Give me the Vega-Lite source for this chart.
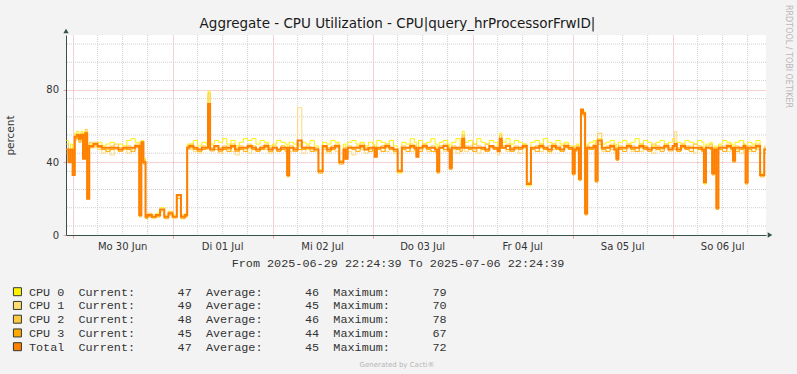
{
  "$schema": "https://vega.github.io/schema/vega-lite/v6.json",
  "background": "#F3F3F3",
  "padding": {"left": 5, "top": 5, "right": 8, "bottom": 8},
  "bounds": "flush",
  "spacing": 56.7,
  "datasets": {
    "cpu": [
      {"t":"2025-06-29T22:30:00Z","c0":52,"c1":47,"c2":50,"c3":45,"tot":47},
      {"t":"2025-06-29T23:00:00Z","c0":44,"c1":40,"c2":42,"c3":41,"tot":40},
      {"t":"2025-06-29T23:30:00Z","c0":50,"c1":44,"c2":46,"c3":47,"tot":47},
      {"t":"2025-06-30T00:00:00Z","c0":36,"c1":34,"c2":35,"c3":33,"tot":33},
      {"t":"2025-06-30T00:30:00Z","c0":56,"c1":52,"c2":54,"c3":53,"tot":54},
      {"t":"2025-06-30T01:00:00Z","c0":57,"c1":56,"c2":55,"c3":53,"tot":55},
      {"t":"2025-06-30T01:30:00Z","c0":54,"c1":52,"c2":53,"c3":51,"tot":53},
      {"t":"2025-06-30T02:00:00Z","c0":57,"c1":55,"c2":56,"c3":54,"tot":55},
      {"t":"2025-06-30T02:30:00Z","c0":44,"c1":42,"c2":43,"c3":42,"tot":42},
      {"t":"2025-06-30T03:00:00Z","c0":57,"c1":55,"c2":58,"c3":55,"tot":56},
      {"t":"2025-06-30T03:30:00Z","c0":22,"c1":20,"c2":21,"c3":20,"tot":20},
      {"t":"2025-06-30T04:00:00Z","c0":50,"c1":49,"c2":51,"c3":48,"tot":49},
      {"t":"2025-06-30T05:00:00Z","c0":50,"c1":48,"c2":51,"c3":49,"tot":50},
      {"t":"2025-06-30T06:00:00Z","c0":51,"c1":47,"c2":49,"c3":48,"tot":49},
      {"t":"2025-06-30T07:00:00Z","c0":49,"c1":45,"c2":48,"c3":47,"tot":48},
      {"t":"2025-06-30T08:00:00Z","c0":50,"c1":48,"c2":47,"c3":46,"tot":48},
      {"t":"2025-06-30T09:00:00Z","c0":51,"c1":44,"c2":49,"c3":47,"tot":48},
      {"t":"2025-06-30T10:00:00Z","c0":48,"c1":47,"c2":50,"c3":48,"tot":48},
      {"t":"2025-06-30T11:00:00Z","c0":50,"c1":46,"c2":48,"c3":46,"tot":47},
      {"t":"2025-06-30T12:00:00Z","c0":49,"c1":48,"c2":47,"c3":48,"tot":48},
      {"t":"2025-06-30T13:00:00Z","c0":52,"c1":45,"c2":49,"c3":47,"tot":48},
      {"t":"2025-06-30T14:00:00Z","c0":53,"c1":47,"c2":48,"c3":46,"tot":48},
      {"t":"2025-06-30T15:00:00Z","c0":51,"c1":49,"c2":50,"c3":48,"tot":49},
      {"t":"2025-06-30T16:00:00Z","c0":12,"c1":11,"c2":11,"c3":10,"tot":11},
      {"t":"2025-06-30T16:30:00Z","c0":52,"c1":50,"c2":51,"c3":49,"tot":51},
      {"t":"2025-06-30T17:00:00Z","c0":42,"c1":40,"c2":41,"c3":39,"tot":40},
      {"t":"2025-06-30T17:30:00Z","c0":11,"c1":10,"c2":11,"c3":9,"tot":10},
      {"t":"2025-06-30T18:00:00Z","c0":11,"c1":10,"c2":12,"c3":10,"tot":11},
      {"t":"2025-06-30T19:00:00Z","c0":10,"c1":9,"c2":11,"c3":10,"tot":10},
      {"t":"2025-06-30T20:00:00Z","c0":12,"c1":10,"c2":11,"c3":10,"tot":11},
      {"t":"2025-06-30T21:00:00Z","c0":15,"c1":13,"c2":14,"c3":14,"tot":14},
      {"t":"2025-06-30T22:00:00Z","c0":10,"c1":11,"c2":10,"c3":9,"tot":10},
      {"t":"2025-06-30T23:00:00Z","c0":13,"c1":12,"c2":13,"c3":11,"tot":12},
      {"t":"2025-07-01T00:00:00Z","c0":11,"c1":9,"c2":10,"c3":10,"tot":10},
      {"t":"2025-07-01T01:00:00Z","c0":22,"c1":21,"c2":22,"c3":20,"tot":22},
      {"t":"2025-07-01T02:00:00Z","c0":10,"c1":11,"c2":11,"c3":9,"tot":10},
      {"t":"2025-07-01T03:00:00Z","c0":12,"c1":10,"c2":11,"c3":10,"tot":11},
      {"t":"2025-07-01T03:30:00Z","c0":50,"c1":47,"c2":49,"c3":48,"tot":48},
      {"t":"2025-07-01T04:00:00Z","c0":50,"c1":47,"c2":50,"c3":48,"tot":49},
      {"t":"2025-07-01T05:00:00Z","c0":52,"c1":46,"c2":48,"c3":47,"tot":48},
      {"t":"2025-07-01T06:00:00Z","c0":49,"c1":45,"c2":47,"c3":46,"tot":47},
      {"t":"2025-07-01T07:00:00Z","c0":51,"c1":48,"c2":49,"c3":47,"tot":48},
      {"t":"2025-07-01T08:00:00Z","c0":50,"c1":47,"c2":48,"c3":48,"tot":48},
      {"t":"2025-07-01T08:30:00Z","c0":79,"c1":65,"c2":78,"c3":67,"tot":72},
      {"t":"2025-07-01T09:00:00Z","c0":50,"c1":46,"c2":48,"c3":47,"tot":47},
      {"t":"2025-07-01T10:00:00Z","c0":52,"c1":48,"c2":49,"c3":47,"tot":49},
      {"t":"2025-07-01T11:00:00Z","c0":51,"c1":45,"c2":48,"c3":46,"tot":47},
      {"t":"2025-07-01T12:00:00Z","c0":53,"c1":47,"c2":49,"c3":47,"tot":48},
      {"t":"2025-07-01T13:00:00Z","c0":50,"c1":49,"c2":47,"c3":46,"tot":48},
      {"t":"2025-07-01T14:00:00Z","c0":52,"c1":46,"c2":50,"c3":48,"tot":49},
      {"t":"2025-07-01T15:00:00Z","c0":49,"c1":44,"c2":48,"c3":46,"tot":47},
      {"t":"2025-07-01T16:00:00Z","c0":51,"c1":48,"c2":49,"c3":47,"tot":48},
      {"t":"2025-07-01T17:00:00Z","c0":53,"c1":47,"c2":48,"c3":46,"tot":48},
      {"t":"2025-07-01T18:00:00Z","c0":52,"c1":45,"c2":50,"c3":48,"tot":49},
      {"t":"2025-07-01T19:00:00Z","c0":53,"c1":48,"c2":49,"c3":47,"tot":48},
      {"t":"2025-07-01T20:00:00Z","c0":50,"c1":46,"c2":47,"c3":46,"tot":47},
      {"t":"2025-07-01T21:00:00Z","c0":52,"c1":49,"c2":48,"c3":47,"tot":48},
      {"t":"2025-07-01T22:00:00Z","c0":51,"c1":47,"c2":50,"c3":48,"tot":49},
      {"t":"2025-07-01T23:00:00Z","c0":49,"c1":45,"c2":48,"c3":46,"tot":47},
      {"t":"2025-07-02T00:00:00Z","c0":50,"c1":48,"c2":49,"c3":48,"tot":48},
      {"t":"2025-07-02T01:00:00Z","c0":52,"c1":46,"c2":47,"c3":46,"tot":47},
      {"t":"2025-07-02T02:00:00Z","c0":51,"c1":49,"c2":49,"c3":47,"tot":48},
      {"t":"2025-07-02T03:00:00Z","c0":50,"c1":47,"c2":48,"c3":46,"tot":48},
      {"t":"2025-07-02T03:30:00Z","c0":34,"c1":33,"c2":33,"c3":32,"tot":33},
      {"t":"2025-07-02T04:00:00Z","c0":51,"c1":46,"c2":49,"c3":48,"tot":48},
      {"t":"2025-07-02T05:00:00Z","c0":50,"c1":48,"c2":48,"c3":46,"tot":47},
      {"t":"2025-07-02T06:00:00Z","c0":49,"c1":70,"c2":50,"c3":47,"tot":52},
      {"t":"2025-07-02T07:00:00Z","c0":51,"c1":45,"c2":48,"c3":47,"tot":48},
      {"t":"2025-07-02T08:00:00Z","c0":50,"c1":47,"c2":49,"c3":48,"tot":48},
      {"t":"2025-07-02T09:00:00Z","c0":52,"c1":48,"c2":47,"c3":46,"tot":48},
      {"t":"2025-07-02T10:00:00Z","c0":49,"c1":46,"c2":48,"c3":47,"tot":47},
      {"t":"2025-07-02T11:00:00Z","c0":36,"c1":35,"c2":35,"c3":34,"tot":35},
      {"t":"2025-07-02T12:00:00Z","c0":51,"c1":47,"c2":49,"c3":48,"tot":49},
      {"t":"2025-07-02T13:00:00Z","c0":50,"c1":45,"c2":48,"c3":46,"tot":47},
      {"t":"2025-07-02T14:00:00Z","c0":52,"c1":48,"c2":49,"c3":47,"tot":48},
      {"t":"2025-07-02T15:00:00Z","c0":51,"c1":46,"c2":50,"c3":48,"tot":49},
      {"t":"2025-07-02T16:00:00Z","c0":40,"c1":41,"c2":40,"c3":39,"tot":40},
      {"t":"2025-07-02T17:00:00Z","c0":50,"c1":47,"c2":48,"c3":46,"tot":47},
      {"t":"2025-07-02T17:30:00Z","c0":44,"c1":42,"c2":43,"c3":42,"tot":42},
      {"t":"2025-07-02T18:00:00Z","c0":51,"c1":46,"c2":49,"c3":48,"tot":48},
      {"t":"2025-07-02T19:00:00Z","c0":52,"c1":44,"c2":48,"c3":47,"tot":48},
      {"t":"2025-07-02T20:00:00Z","c0":50,"c1":48,"c2":49,"c3":46,"tot":48},
      {"t":"2025-07-02T21:00:00Z","c0":51,"c1":47,"c2":50,"c3":48,"tot":49},
      {"t":"2025-07-02T22:00:00Z","c0":49,"c1":45,"c2":48,"c3":47,"tot":47},
      {"t":"2025-07-02T23:00:00Z","c0":51,"c1":48,"c2":47,"c3":46,"tot":48},
      {"t":"2025-07-03T00:00:00Z","c0":50,"c1":46,"c2":49,"c3":48,"tot":48},
      {"t":"2025-07-03T00:30:00Z","c0":45,"c1":43,"c2":44,"c3":43,"tot":43},
      {"t":"2025-07-03T01:00:00Z","c0":52,"c1":47,"c2":48,"c3":47,"tot":48},
      {"t":"2025-07-03T02:00:00Z","c0":51,"c1":49,"c2":49,"c3":46,"tot":48},
      {"t":"2025-07-03T03:00:00Z","c0":50,"c1":46,"c2":50,"c3":48,"tot":49},
      {"t":"2025-07-03T04:00:00Z","c0":52,"c1":48,"c2":48,"c3":47,"tot":48},
      {"t":"2025-07-03T05:00:00Z","c0":49,"c1":45,"c2":47,"c3":46,"tot":47},
      {"t":"2025-07-03T06:00:00Z","c0":34,"c1":36,"c2":35,"c3":35,"tot":35},
      {"t":"2025-07-03T07:00:00Z","c0":51,"c1":47,"c2":49,"c3":47,"tot":48},
      {"t":"2025-07-03T08:00:00Z","c0":50,"c1":48,"c2":48,"c3":46,"tot":48},
      {"t":"2025-07-03T09:00:00Z","c0":53,"c1":46,"c2":50,"c3":48,"tot":49},
      {"t":"2025-07-03T10:00:00Z","c0":51,"c1":48,"c2":49,"c3":47,"tot":48},
      {"t":"2025-07-03T10:30:00Z","c0":45,"c1":44,"c2":44,"c3":43,"tot":43},
      {"t":"2025-07-03T11:00:00Z","c0":52,"c1":47,"c2":48,"c3":46,"tot":48},
      {"t":"2025-07-03T12:00:00Z","c0":50,"c1":49,"c2":50,"c3":48,"tot":49},
      {"t":"2025-07-03T13:00:00Z","c0":51,"c1":46,"c2":48,"c3":47,"tot":48},
      {"t":"2025-07-03T14:00:00Z","c0":53,"c1":48,"c2":49,"c3":46,"tot":48},
      {"t":"2025-07-03T15:00:00Z","c0":50,"c1":45,"c2":47,"c3":46,"tot":47},
      {"t":"2025-07-03T15:30:00Z","c0":36,"c1":35,"c2":35,"c3":34,"tot":35},
      {"t":"2025-07-03T16:00:00Z","c0":51,"c1":48,"c2":49,"c3":48,"tot":48},
      {"t":"2025-07-03T17:00:00Z","c0":52,"c1":46,"c2":50,"c3":47,"tot":49},
      {"t":"2025-07-03T18:00:00Z","c0":50,"c1":48,"c2":48,"c3":46,"tot":47},
      {"t":"2025-07-03T18:30:00Z","c0":38,"c1":37,"c2":37,"c3":36,"tot":37},
      {"t":"2025-07-03T19:00:00Z","c0":51,"c1":47,"c2":49,"c3":48,"tot":48},
      {"t":"2025-07-03T20:00:00Z","c0":53,"c1":45,"c2":48,"c3":47,"tot":48},
      {"t":"2025-07-03T21:00:00Z","c0":50,"c1":48,"c2":50,"c3":46,"tot":48},
      {"t":"2025-07-03T21:30:00Z","c0":57,"c1":54,"c2":55,"c3":52,"tot":53},
      {"t":"2025-07-03T22:00:00Z","c0":51,"c1":46,"c2":49,"c3":48,"tot":48},
      {"t":"2025-07-03T23:00:00Z","c0":52,"c1":49,"c2":48,"c3":47,"tot":48},
      {"t":"2025-07-04T00:00:00Z","c0":50,"c1":47,"c2":50,"c3":46,"tot":48},
      {"t":"2025-07-04T01:00:00Z","c0":53,"c1":45,"c2":49,"c3":48,"tot":48},
      {"t":"2025-07-04T02:00:00Z","c0":51,"c1":48,"c2":48,"c3":47,"tot":48},
      {"t":"2025-07-04T03:00:00Z","c0":50,"c1":46,"c2":50,"c3":46,"tot":47},
      {"t":"2025-07-04T04:00:00Z","c0":52,"c1":49,"c2":49,"c3":48,"tot":49},
      {"t":"2025-07-04T05:00:00Z","c0":51,"c1":47,"c2":48,"c3":47,"tot":48},
      {"t":"2025-07-04T06:00:00Z","c0":49,"c1":44,"c2":47,"c3":46,"tot":46},
      {"t":"2025-07-04T06:30:00Z","c0":56,"c1":53,"c2":55,"c3":52,"tot":53},
      {"t":"2025-07-04T07:00:00Z","c0":51,"c1":48,"c2":49,"c3":48,"tot":48},
      {"t":"2025-07-04T08:00:00Z","c0":53,"c1":46,"c2":50,"c3":47,"tot":49},
      {"t":"2025-07-04T09:00:00Z","c0":50,"c1":48,"c2":48,"c3":46,"tot":47},
      {"t":"2025-07-04T10:00:00Z","c0":52,"c1":47,"c2":49,"c3":48,"tot":48},
      {"t":"2025-07-04T11:00:00Z","c0":51,"c1":45,"c2":48,"c3":47,"tot":48},
      {"t":"2025-07-04T12:00:00Z","c0":50,"c1":48,"c2":50,"c3":48,"tot":49},
      {"t":"2025-07-04T13:00:00Z","c0":27,"c1":29,"c2":29,"c3":28,"tot":28},
      {"t":"2025-07-04T14:00:00Z","c0":51,"c1":47,"c2":48,"c3":47,"tot":48},
      {"t":"2025-07-04T15:00:00Z","c0":52,"c1":49,"c2":49,"c3":46,"tot":48},
      {"t":"2025-07-04T16:00:00Z","c0":50,"c1":46,"c2":50,"c3":48,"tot":49},
      {"t":"2025-07-04T17:00:00Z","c0":53,"c1":48,"c2":48,"c3":47,"tot":48},
      {"t":"2025-07-04T18:00:00Z","c0":51,"c1":45,"c2":49,"c3":46,"tot":47},
      {"t":"2025-07-04T19:00:00Z","c0":50,"c1":47,"c2":50,"c3":48,"tot":49},
      {"t":"2025-07-04T20:00:00Z","c0":52,"c1":49,"c2":48,"c3":47,"tot":48},
      {"t":"2025-07-04T21:00:00Z","c0":50,"c1":46,"c2":49,"c3":46,"tot":47},
      {"t":"2025-07-04T22:00:00Z","c0":51,"c1":48,"c2":50,"c3":48,"tot":49},
      {"t":"2025-07-04T23:00:00Z","c0":49,"c1":47,"c2":48,"c3":47,"tot":48},
      {"t":"2025-07-05T00:00:00Z","c0":35,"c1":34,"c2":35,"c3":33,"tot":34},
      {"t":"2025-07-05T00:30:00Z","c0":49,"c1":47,"c2":48,"c3":46,"tot":47},
      {"t":"2025-07-05T01:00:00Z","c0":50,"c1":48,"c2":49,"c3":47,"tot":48},
      {"t":"2025-07-05T01:30:00Z","c0":32,"c1":31,"c2":31,"c3":30,"tot":31},
      {"t":"2025-07-05T02:00:00Z","c0":69,"c1":66,"c2":69,"c3":67,"tot":69},
      {"t":"2025-07-05T02:30:00Z","c0":68,"c1":65,"c2":67,"c3":66,"tot":67},
      {"t":"2025-07-05T03:00:00Z","c0":13,"c1":12,"c2":12,"c3":11,"tot":12},
      {"t":"2025-07-05T03:30:00Z","c0":50,"c1":47,"c2":49,"c3":48,"tot":48},
      {"t":"2025-07-05T04:00:00Z","c0":51,"c1":48,"c2":48,"c3":47,"tot":48},
      {"t":"2025-07-05T05:00:00Z","c0":52,"c1":49,"c2":50,"c3":48,"tot":49},
      {"t":"2025-07-05T05:30:00Z","c0":31,"c1":30,"c2":30,"c3":29,"tot":30},
      {"t":"2025-07-05T06:00:00Z","c0":53,"c1":51,"c2":56,"c3":50,"tot":52},
      {"t":"2025-07-05T07:00:00Z","c0":50,"c1":46,"c2":48,"c3":47,"tot":48},
      {"t":"2025-07-05T08:00:00Z","c0":51,"c1":48,"c2":49,"c3":46,"tot":48},
      {"t":"2025-07-05T09:00:00Z","c0":52,"c1":47,"c2":50,"c3":48,"tot":49},
      {"t":"2025-07-05T10:00:00Z","c0":50,"c1":45,"c2":48,"c3":47,"tot":47},
      {"t":"2025-07-05T10:30:00Z","c0":43,"c1":42,"c2":42,"c3":41,"tot":42},
      {"t":"2025-07-05T11:00:00Z","c0":51,"c1":48,"c2":49,"c3":47,"tot":48},
      {"t":"2025-07-05T12:00:00Z","c0":52,"c1":47,"c2":48,"c3":46,"tot":48},
      {"t":"2025-07-05T13:00:00Z","c0":50,"c1":48,"c2":50,"c3":48,"tot":49},
      {"t":"2025-07-05T14:00:00Z","c0":51,"c1":46,"c2":49,"c3":47,"tot":48},
      {"t":"2025-07-05T15:00:00Z","c0":53,"c1":48,"c2":48,"c3":46,"tot":48},
      {"t":"2025-07-05T16:00:00Z","c0":50,"c1":46,"c2":50,"c3":48,"tot":49},
      {"t":"2025-07-05T17:00:00Z","c0":52,"c1":49,"c2":49,"c3":47,"tot":48},
      {"t":"2025-07-05T18:00:00Z","c0":51,"c1":47,"c2":48,"c3":46,"tot":47},
      {"t":"2025-07-05T19:00:00Z","c0":49,"c1":45,"c2":50,"c3":48,"tot":48},
      {"t":"2025-07-05T20:00:00Z","c0":51,"c1":48,"c2":49,"c3":47,"tot":48},
      {"t":"2025-07-05T21:00:00Z","c0":52,"c1":47,"c2":48,"c3":46,"tot":48},
      {"t":"2025-07-05T22:00:00Z","c0":50,"c1":49,"c2":50,"c3":48,"tot":49},
      {"t":"2025-07-05T23:00:00Z","c0":51,"c1":46,"c2":48,"c3":47,"tot":47},
      {"t":"2025-07-06T00:00:00Z","c0":53,"c1":48,"c2":49,"c3":48,"tot":49},
      {"t":"2025-07-06T00:30:00Z","c0":50,"c1":57,"c2":50,"c3":47,"tot":50},
      {"t":"2025-07-06T01:00:00Z","c0":51,"c1":46,"c2":48,"c3":46,"tot":47},
      {"t":"2025-07-06T02:00:00Z","c0":50,"c1":48,"c2":50,"c3":48,"tot":49},
      {"t":"2025-07-06T03:00:00Z","c0":52,"c1":47,"c2":49,"c3":47,"tot":48},
      {"t":"2025-07-06T04:00:00Z","c0":51,"c1":49,"c2":48,"c3":46,"tot":48},
      {"t":"2025-07-06T05:00:00Z","c0":50,"c1":45,"c2":50,"c3":48,"tot":48},
      {"t":"2025-07-06T06:00:00Z","c0":52,"c1":48,"c2":49,"c3":47,"tot":48},
      {"t":"2025-07-06T07:00:00Z","c0":51,"c1":46,"c2":48,"c3":46,"tot":47},
      {"t":"2025-07-06T07:30:00Z","c0":28,"c1":30,"c2":29,"c3":29,"tot":29},
      {"t":"2025-07-06T08:00:00Z","c0":50,"c1":48,"c2":49,"c3":48,"tot":48},
      {"t":"2025-07-06T09:00:00Z","c0":51,"c1":47,"c2":50,"c3":47,"tot":48},
      {"t":"2025-07-06T09:30:00Z","c0":35,"c1":34,"c2":34,"c3":33,"tot":34},
      {"t":"2025-07-06T10:00:00Z","c0":49,"c1":46,"c2":48,"c3":46,"tot":47},
      {"t":"2025-07-06T10:30:00Z","c0":16,"c1":15,"c2":15,"c3":14,"tot":15},
      {"t":"2025-07-06T11:00:00Z","c0":50,"c1":47,"c2":49,"c3":47,"tot":48},
      {"t":"2025-07-06T12:00:00Z","c0":52,"c1":49,"c2":48,"c3":46,"tot":48},
      {"t":"2025-07-06T13:00:00Z","c0":51,"c1":46,"c2":50,"c3":48,"tot":49},
      {"t":"2025-07-06T14:00:00Z","c0":50,"c1":48,"c2":48,"c3":47,"tot":48},
      {"t":"2025-07-06T14:30:00Z","c0":42,"c1":41,"c2":41,"c3":40,"tot":41},
      {"t":"2025-07-06T15:00:00Z","c0":51,"c1":47,"c2":49,"c3":46,"tot":48},
      {"t":"2025-07-06T16:00:00Z","c0":52,"c1":45,"c2":48,"c3":47,"tot":48},
      {"t":"2025-07-06T17:00:00Z","c0":50,"c1":48,"c2":50,"c3":48,"tot":49},
      {"t":"2025-07-06T17:30:00Z","c0":30,"c1":29,"c2":29,"c3":28,"tot":29},
      {"t":"2025-07-06T18:00:00Z","c0":51,"c1":46,"c2":49,"c3":47,"tot":48},
      {"t":"2025-07-06T19:00:00Z","c0":50,"c1":49,"c2":48,"c3":46,"tot":48},
      {"t":"2025-07-06T20:00:00Z","c0":52,"c1":47,"c2":50,"c3":48,"tot":49},
      {"t":"2025-07-06T21:00:00Z","c0":34,"c1":33,"c2":33,"c3":32,"tot":33},
      {"t":"2025-07-06T22:00:00Z","c0":47,"c1":49,"c2":48,"c3":45,"tot":47},
      {"t":"2025-07-06T22:24:39Z","c0":47,"c1":49,"c2":48,"c3":45,"tot":47}
    ],
    "hgrid": [
      {"v": 5}, {"v": 15}, {"v": 25}, {"v": 35}, {"v": 45}, {"v": 55},
      {"v": 65}, {"v": 75}, {"v": 85}, {"v": 95}, {"v": 105}
    ],
    "vgrid": [
      {"t":"2025-06-30T06:00:00Z"},{"t":"2025-06-30T12:00:00Z"},{"t":"2025-06-30T18:00:00Z"},
      {"t":"2025-07-01T06:00:00Z"},{"t":"2025-07-01T12:00:00Z"},{"t":"2025-07-01T18:00:00Z"},
      {"t":"2025-07-02T06:00:00Z"},{"t":"2025-07-02T12:00:00Z"},{"t":"2025-07-02T18:00:00Z"},
      {"t":"2025-07-03T06:00:00Z"},{"t":"2025-07-03T12:00:00Z"},{"t":"2025-07-03T18:00:00Z"},
      {"t":"2025-07-04T06:00:00Z"},{"t":"2025-07-04T12:00:00Z"},{"t":"2025-07-04T18:00:00Z"},
      {"t":"2025-07-05T06:00:00Z"},{"t":"2025-07-05T12:00:00Z"},{"t":"2025-07-05T18:00:00Z"},
      {"t":"2025-07-06T06:00:00Z"},{"t":"2025-07-06T12:00:00Z"},{"t":"2025-07-06T18:00:00Z"}
    ],
    "xlab": [
      {"t":"2025-06-30T12:00:00Z","label":"Mo 30 Jun"},
      {"t":"2025-07-01T12:00:00Z","label":"Di 01 Jul"},
      {"t":"2025-07-02T12:00:00Z","label":"Mi 02 Jul"},
      {"t":"2025-07-03T12:00:00Z","label":"Do 03 Jul"},
      {"t":"2025-07-04T12:00:00Z","label":"Fr 04 Jul"},
      {"t":"2025-07-05T12:00:00Z","label":"Sa 05 Jul"},
      {"t":"2025-07-06T12:00:00Z","label":"So 06 Jul"}
    ],
    "legendrows": [
      {"row": 0, "series": "c0", "label": "CPU\u00a00\u00a0\u00a0Current:\u00a0\u00a0\u00a0\u00a0\u00a0\u00a047\u00a0\u00a0Average:\u00a0\u00a0\u00a0\u00a0\u00a0\u00a046\u00a0\u00a0Maximum:\u00a0\u00a0\u00a0\u00a0\u00a0\u00a079"},
      {"row": 1, "series": "c1", "label": "CPU\u00a01\u00a0\u00a0Current:\u00a0\u00a0\u00a0\u00a0\u00a0\u00a049\u00a0\u00a0Average:\u00a0\u00a0\u00a0\u00a0\u00a0\u00a045\u00a0\u00a0Maximum:\u00a0\u00a0\u00a0\u00a0\u00a0\u00a070"},
      {"row": 2, "series": "c2", "label": "CPU\u00a02\u00a0\u00a0Current:\u00a0\u00a0\u00a0\u00a0\u00a0\u00a048\u00a0\u00a0Average:\u00a0\u00a0\u00a0\u00a0\u00a0\u00a046\u00a0\u00a0Maximum:\u00a0\u00a0\u00a0\u00a0\u00a0\u00a078"},
      {"row": 3, "series": "c3", "label": "CPU\u00a03\u00a0\u00a0Current:\u00a0\u00a0\u00a0\u00a0\u00a0\u00a045\u00a0\u00a0Average:\u00a0\u00a0\u00a0\u00a0\u00a0\u00a044\u00a0\u00a0Maximum:\u00a0\u00a0\u00a0\u00a0\u00a0\u00a067"},
      {"row": 4, "series": "tot", "label": "Total\u00a0\u00a0Current:\u00a0\u00a0\u00a0\u00a0\u00a0\u00a047\u00a0\u00a0Average:\u00a0\u00a0\u00a0\u00a0\u00a0\u00a045\u00a0\u00a0Maximum:\u00a0\u00a0\u00a0\u00a0\u00a0\u00a072"}
    ]
  },
  "vconcat": [
    {
      "width": 700,
      "height": 200,
      "view": {"fill": "#FFFFFF", "stroke": null},
      "title": {
        "text": "Aggregate - CPU Utilization - CPU|query_hrProcessorFrwID|",
        "font": "DejaVu Sans", "fontSize": 13.5, "fontWeight": "normal", "color": "#1A1A1A",
        "anchor": "middle", "frame": "group", "dx": -18.5, "offset": -25
      },
      "layer": [
        {
          "data": {"name": "hgrid"},
          "mark": {"type": "rule", "color": "#CFCFCF", "strokeDash": [1, 1], "strokeWidth": 1},
          "encoding": {
            "y": {
              "field": "v", "type": "quantitative",
              "scale": {"domain": [0, 110], "nice": false, "zero": false},
              "axis": {
                "values": [0, 10, 20, 30, 40, 50, 60, 70, 80, 90, 100, 110],
                "labelOverlap": false,
                "labelFont": "DejaVu Sans", "labelFontSize": 10, "labelColor": "#333333", "labelPadding": 4.5,
                "grid": true, "gridDash": [1, 1], "gridColor": "#E9A0A0",
                "tickSize": 3, "tickColor": "#E9A0A0",
                "domainColor": "#36524A",
                "title": "percent", "titleFont": "DejaVu Sans", "titleFontSize": 10.5, "titleFontWeight": "normal", "titleColor": "#333333",
                "titleX": -56, "titleY": 100, "titleAngle": 270, "titleAlign": "center", "titleBaseline": "middle"
              }
            }
          }
        },
        {
          "data": {"name": "vgrid"},
          "mark": {"type": "rule", "color": "#CFCFCF", "strokeDash": [1, 1], "strokeWidth": 1},
          "encoding": {
            "x": {
              "field": "t", "type": "temporal",
              "scale": {"type": "utc", "domain": [
                {"year": 2025, "month": 6, "date": 29, "hours": 22, "minutes": 24, "seconds": 39, "utc": true},
                {"year": 2025, "month": 7, "date": 6, "hours": 22, "minutes": 24, "seconds": 39, "utc": true}
              ]},
              "axis": {
                "values": [
                  {"year": 2025, "month": 6, "date": 30, "hours": 0, "utc": true},
                  {"year": 2025, "month": 7, "date": 1, "hours": 0, "utc": true},
                  {"year": 2025, "month": 7, "date": 2, "hours": 0, "utc": true},
                  {"year": 2025, "month": 7, "date": 3, "hours": 0, "utc": true},
                  {"year": 2025, "month": 7, "date": 4, "hours": 0, "utc": true},
                  {"year": 2025, "month": 7, "date": 5, "hours": 0, "utc": true},
                  {"year": 2025, "month": 7, "date": 6, "hours": 0, "utc": true}
                ],
                "labels": false,
                "grid": true, "gridDash": [1, 1], "gridColor": "#E9A0A0",
                "tickSize": 3, "tickColor": "#E9A0A0",
                "domainColor": "#36524A",
                "title": "From 2025-06-29 22:24:39 To 2025-07-06 22:24:39",
                "titleFont": "Liberation Mono", "titleFontSize": 11.8, "titleFontWeight": "normal", "titleColor": "#333333",
                "titleX": 331.5, "titleY": 27, "titleAlign": "center", "titleBaseline": "middle"
              }
            }
          }
        },
        {
          "data": {"name": "cpu"},
          "transform": [{"fold": ["c0", "c1", "c2", "c3"], "as": ["series", "v"]}],
          "mark": {"type": "line", "interpolate": "step-after", "strokeWidth": 1},
          "encoding": {
            "x": {
              "field": "t", "type": "temporal",
              "scale": {"type": "utc", "domain": [
                {"year": 2025, "month": 6, "date": 29, "hours": 22, "minutes": 24, "seconds": 39, "utc": true},
                {"year": 2025, "month": 7, "date": 6, "hours": 22, "minutes": 24, "seconds": 39, "utc": true}
              ]},
              "axis": {
                "values": [
                  {"year": 2025, "month": 6, "date": 30, "hours": 0, "utc": true},
                  {"year": 2025, "month": 7, "date": 1, "hours": 0, "utc": true},
                  {"year": 2025, "month": 7, "date": 2, "hours": 0, "utc": true},
                  {"year": 2025, "month": 7, "date": 3, "hours": 0, "utc": true},
                  {"year": 2025, "month": 7, "date": 4, "hours": 0, "utc": true},
                  {"year": 2025, "month": 7, "date": 5, "hours": 0, "utc": true},
                  {"year": 2025, "month": 7, "date": 6, "hours": 0, "utc": true}
                ],
                "labels": false,
                "grid": true, "gridDash": [1, 1], "gridColor": "#E9A0A0",
                "tickSize": 3, "tickColor": "#E9A0A0",
                "domainColor": "#36524A",
                "title": "From 2025-06-29 22:24:39 To 2025-07-06 22:24:39",
                "titleFont": "Liberation Mono", "titleFontSize": 11.8, "titleFontWeight": "normal", "titleColor": "#333333",
                "titleX": 331.5, "titleY": 27, "titleAlign": "center", "titleBaseline": "middle"
              }
            },
            "y": {
              "field": "v", "type": "quantitative",
              "scale": {"domain": [0, 110], "nice": false, "zero": false},
              "axis": {
                "values": [0, 10, 20, 30, 40, 50, 60, 70, 80, 90, 100, 110],
                "labelOverlap": false,
                "labelFont": "DejaVu Sans", "labelFontSize": 10, "labelColor": "#333333", "labelPadding": 4.5,
                "grid": true, "gridDash": [1, 1], "gridColor": "#E9A0A0",
                "tickSize": 3, "tickColor": "#E9A0A0",
                "domainColor": "#36524A",
                "title": "percent", "titleFont": "DejaVu Sans", "titleFontSize": 10.5, "titleFontWeight": "normal", "titleColor": "#333333",
                "titleX": -56, "titleY": 100, "titleAngle": 270, "titleAlign": "center", "titleBaseline": "middle"
              }
            },
            "color": {
              "field": "series", "type": "nominal",
              "scale": {"domain": ["c0", "c1", "c2", "c3"], "range": ["#FFF000", "#FFD975", "#FFC845", "#FFA800"]},
              "legend": null
            }
          }
        },
        {
          "data": {"name": "cpu"},
          "transform": [{"fold": ["tot"], "as": ["series", "v"]}],
          "mark": {"type": "line", "interpolate": "step-after", "strokeWidth": 2, "color": "#FF7F00"},
          "encoding": {
            "x": {"field": "t", "type": "temporal"},
            "y": {"field": "v", "type": "quantitative"}
          }
        },
        {
          "data": {"name": "xlab"},
          "mark": {"type": "text", "font": "DejaVu Sans", "fontSize": 10, "color": "#333333", "baseline": "middle", "align": "center", "dy": 12},
          "encoding": {
            "x": {"field": "t", "type": "temporal"},
            "y": {"datum": 0, "type": "quantitative"},
            "text": {"field": "label"}
          }
        },
        {
          "data": {"values": [{"k": 1}]},
          "mark": {"type": "text", "text": "RRDTOOL / TOBI OETIKER", "angle": 90, "align": "left", "baseline": "middle", "font": "DejaVu Sans", "fontSize": 8, "color": "#B8B8B8", "xOffset": 22, "yOffset": -30},
          "encoding": {
            "x": {"datum": {"year": 2025, "month": 7, "date": 6, "hours": 22, "minutes": 24, "seconds": 39, "utc": true}, "type": "temporal"},
            "y": {"datum": 110, "type": "quantitative"}
          }
        },
        {
          "data": {"values": [{"k": 1}]},
          "mark": {"type": "point", "shape": "triangle-right", "filled": true, "size": 28, "color": "#36524A", "opacity": 1, "xOffset": 4},
          "encoding": {
            "x": {"datum": {"year": 2025, "month": 7, "date": 6, "hours": 22, "minutes": 24, "seconds": 39, "utc": true}, "type": "temporal"},
            "y": {"datum": 0, "type": "quantitative"}
          }
        },
        {
          "data": {"values": [{"k": 1}]},
          "mark": {"type": "point", "shape": "triangle-up", "filled": true, "size": 28, "color": "#36524A", "opacity": 1, "yOffset": -4},
          "encoding": {
            "x": {"datum": {"year": 2025, "month": 6, "date": 29, "hours": 22, "minutes": 24, "seconds": 39, "utc": true}, "type": "temporal"},
            "y": {"datum": 110, "type": "quantitative"}
          }
        }
      ]
    },
    {
      "width": 662,
      "height": 55,
      "view": {"stroke": null},
      "data": {"name": "legendrows"},
      "title": {
        "text": "Generated by Cacti\u00ae", "orient": "bottom", "anchor": "middle", "frame": "group",
        "font": "DejaVu Sans", "fontSize": 7, "fontWeight": "normal", "color": "#B5B5B5", "offset": 7
      },
      "encoding": {
        "y": {"field": "row", "type": "ordinal", "scale": {"type": "point", "padding": 0}, "axis": null}
      },
      "layer": [
        {
          "mark": {"type": "point", "shape": "square", "filled": true, "size": 64, "stroke": "#2F3B35", "strokeWidth": 1, "opacity": 1},
          "encoding": {
            "x": {"datum": -1.62, "type": "quantitative", "scale": {"domain": [5.24, 98.74], "zero": false, "nice": false}, "axis": null},
            "fill": {
              "field": "series", "type": "nominal",
              "scale": {"domain": ["c0", "c1", "c2", "c3", "tot"], "range": ["#FFF200", "#FFDA70", "#FFC840", "#FFA800", "#FF7F00"]},
              "legend": null
            }
          }
        },
        {
          "mark": {"type": "text", "align": "left", "baseline": "middle", "font": "Liberation Mono", "fontSize": 11.8, "color": "#333333"},
          "encoding": {
            "x": {"datum": 0, "type": "quantitative", "scale": {"domain": [5.24, 98.74], "zero": false, "nice": false}, "axis": null},
            "text": {"field": "label"}
          }
        }
      ]
    }
  ]
}
